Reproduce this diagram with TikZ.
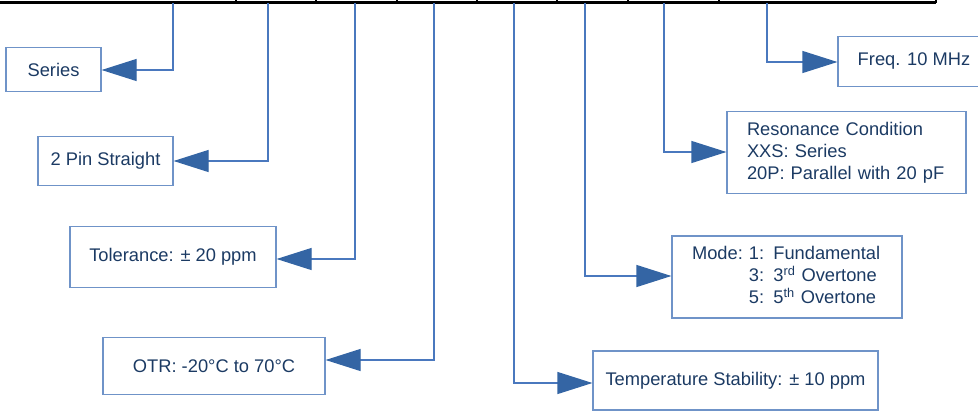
\documentclass[tikz,border=0pt]{standalone}
\usepackage{fontspec}
\setmainfont{Liberation Sans}
\usetikzlibrary{arrows.meta}
\definecolor{txt}{HTML}{1B3A63}
\definecolor{bord}{HTML}{6F93C8}
\definecolor{conncol}{HTML}{4A78BE}
\definecolor{tipcol}{HTML}{3465A4}
\tikzset{
  box/.style={draw=bord, line width=1.2pt, text=txt, inner sep=0pt,
    font=\fontsize{18.3}{21.8}\selectfont, anchor=center},
  conn/.style={draw=conncol, line width=1.2pt,
    -{Triangle[length=35pt,width=22pt,fill=tipcol,color=tipcol]}},
}
\begin{document}
\begin{tikzpicture}[x=1pt,y=-1pt]
\useasboundingbox (0,0) rectangle (978,410);
\clip (0,0) rectangle (978,410);
% top bar
\draw[black, line width=3pt] (0,2) -- (936,2);
\foreach \x in {236,316,397,477,557,628,719,936}
  \draw[black, line width=2.5pt] (\x,0) -- (\x,2.5);
% boxes
\node[box, minimum width=95pt, minimum height=44pt] (series) at (53.5,69.5) {Series};
\node[box, minimum width=135pt, minimum height=49pt] (pin) at (105.5,161) {2 Pin Straight};
\node[box, minimum width=206pt, minimum height=61pt] (tol) at (173,257) {Tolerance: ± 20 ppm};
\node[box, minimum width=222pt, minimum height=57pt] (otr) at (214,366) {OTR: -20°C to 70°C};
\node[box, minimum width=152pt, minimum height=50pt] (freq) at (914,61.5) {Freq. 10 MHz};
\node[box, minimum width=239pt, minimum height=82pt, text width=199pt, align=left, inner xsep=20pt] (res) at (846.5,152.5)
  {Resonance Condition\\XXS: Series\\20P: Parallel with 20 pF};
\node[box, minimum width=230pt, minimum height=82pt, text width=190pt, align=left, inner xsep=20pt] (mode) at (787,277)
  {\begin{tabular}{@{}l@{\ }l@{}}Mode: & 1: Fundamental\\ & 3: 3\textsuperscript{rd} Overtone\\ & 5: 5\textsuperscript{th} Overtone\end{tabular}};
\node[box, minimum width=285pt, minimum height=59pt] (temp) at (735.5,380.5) {Temperature Stability: ± 10 ppm};
% connector start points
\coordinate (t1) at (173,3);
\coordinate (t2) at (268,3);
\coordinate (t3) at (355,3);
\coordinate (t4) at (434,3);
\coordinate (t5) at (514,3);
\coordinate (t6) at (585,3);
\coordinate (t7) at (664,3);
\coordinate (t8) at (767,3);
\draw[conn] (t1) |- ([yshift=-0.5pt]series.east);
\draw[conn] (t2) |- (pin.east);
\draw[conn] (t3) |- ([yshift=-2pt]tol.east);
\draw[conn] (t4) |- ([yshift=6pt]otr.east);
\draw[conn] (t5) |- ([yshift=-2.5pt]temp.west);
\draw[conn] (t6) |- ([yshift=1pt]mode.west);
\draw[conn] (t7) |- ([yshift=0.5pt]res.west);
\draw[conn] (t8) |- ([yshift=-0.5pt]freq.west);
\end{tikzpicture}
\end{document}
